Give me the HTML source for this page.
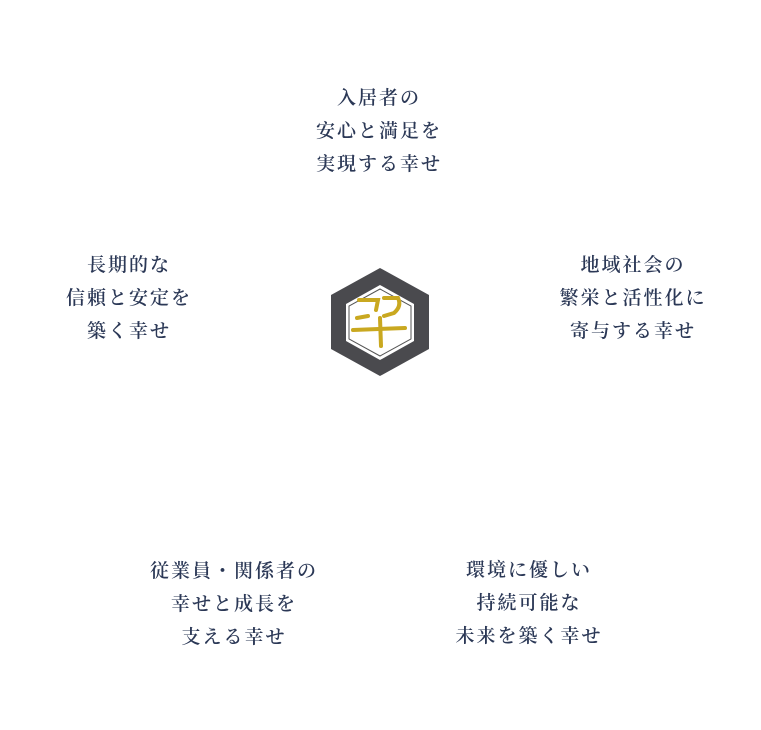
<!DOCTYPE html>
<html><head><meta charset="utf-8"><style>
body{margin:0;width:761px;height:730px;background:#fff;position:relative;overflow:hidden}
.t{position:absolute;width:300px;text-align:center;font-family:"Liberation Serif","Noto Serif CJK SC",serif;font-size:19px;font-weight:600;line-height:33px;letter-spacing:2px;color:#2b3856}
</style></head><body>
<div class="t" style="left:229px;top:82px">入居者の<br>安心と満足を<br>実現する幸せ</div>
<div class="t" style="left:-21px;top:249px">長期的な<br>信頼と安定を<br>築く幸せ</div>
<div class="t" style="left:483px;top:249px">地域社会の<br>繁栄と活性化に<br>寄与する幸せ</div>
<div class="t" style="left:84px;top:555px">従業員・関係者の<br>幸せと成長を<br>支える幸せ</div>
<div class="t" style="left:379px;top:554px">環境に優しい<br>持続可能な<br>未来を築く幸せ</div>
<svg style="position:absolute;left:0;top:0" width="761" height="730">
<polygon points="380,268 429,295 429,349 380,376 331,349 331,295" fill="#4a4a4e"/>
<polygon points="380,285 414,304 414,341 380,360 346,341 346,304" fill="#fff"/>
<polygon points="380,289 411,306 411,339 380,356 349,339 349,306" fill="none" stroke="#555" stroke-width="1"/>
<g stroke="#c9a820" stroke-width="4" fill="none" stroke-linecap="round">
<path d="M359,300 L378,300 L376,310"/>
<path d="M357,318 L368,316"/>
<path d="M384,298 L398,298 Q402,306 394,313 L384,316"/>
<path d="M353,330 L405,328"/>
<path d="M380,318 L381,346"/>
</g>
</svg>
</body></html>
